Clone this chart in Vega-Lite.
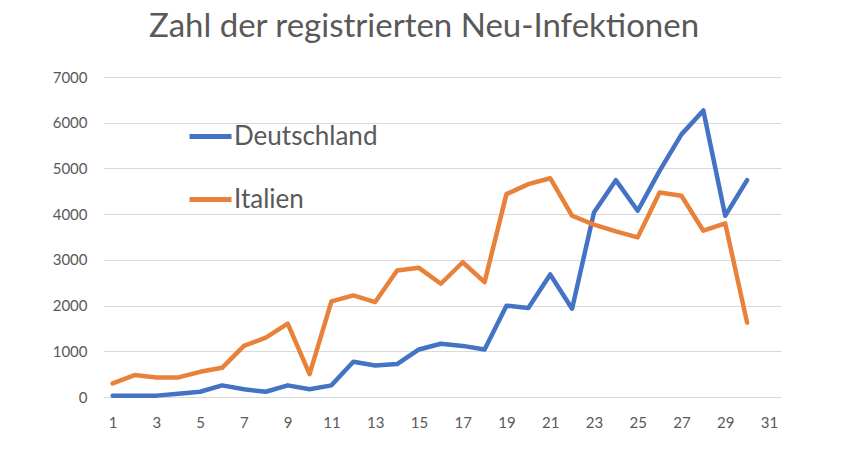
{
  "$schema": "https://vega.github.io/schema/vega-lite/v6.json",
  "width": 678,
  "height": 320,
  "autosize": "none",
  "padding": {"left": 103, "top": 77, "right": 73, "bottom": 59},
  "background": "white",
  "title": {
    "text": "Zahl der registrierten Neu-Infektionen",
    "font": "Lato",
    "fontSize": 33,
    "fontWeight": "normal",
    "color": "#595959",
    "anchor": "middle",
    "dx": -18,
    "offset": 26
  },
  "config": {
    "view": {"stroke": null},
    "axis": {"labelFont": "Lato", "labelColor": "#595959", "labelFontSize": 15}
  },
  "data": {
    "values": [
      {"tag": 1, "land": "Deutschland", "n": 28},
      {"tag": 2, "land": "Deutschland", "n": 28},
      {"tag": 3, "land": "Deutschland", "n": 30},
      {"tag": 4, "land": "Deutschland", "n": 72},
      {"tag": 5, "land": "Deutschland", "n": 115},
      {"tag": 6, "land": "Deutschland", "n": 255},
      {"tag": 7, "land": "Deutschland", "n": 168},
      {"tag": 8, "land": "Deutschland", "n": 115},
      {"tag": 9, "land": "Deutschland", "n": 255},
      {"tag": 10, "land": "Deutschland", "n": 168},
      {"tag": 11, "land": "Deutschland", "n": 255},
      {"tag": 12, "land": "Deutschland", "n": 770},
      {"tag": 13, "land": "Deutschland", "n": 690},
      {"tag": 14, "land": "Deutschland", "n": 720},
      {"tag": 15, "land": "Deutschland", "n": 1040},
      {"tag": 16, "land": "Deutschland", "n": 1165},
      {"tag": 17, "land": "Deutschland", "n": 1118},
      {"tag": 18, "land": "Deutschland", "n": 1040},
      {"tag": 19, "land": "Deutschland", "n": 1998},
      {"tag": 20, "land": "Deutschland", "n": 1946},
      {"tag": 21, "land": "Deutschland", "n": 2680},
      {"tag": 22, "land": "Deutschland", "n": 1932},
      {"tag": 23, "land": "Deutschland", "n": 4037},
      {"tag": 24, "land": "Deutschland", "n": 4743},
      {"tag": 25, "land": "Deutschland", "n": 4074},
      {"tag": 26, "land": "Deutschland", "n": 4946},
      {"tag": 27, "land": "Deutschland", "n": 5745},
      {"tag": 28, "land": "Deutschland", "n": 6268},
      {"tag": 29, "land": "Deutschland", "n": 3965},
      {"tag": 30, "land": "Deutschland", "n": 4743},
      {"tag": 1, "land": "Italien", "n": 298},
      {"tag": 2, "land": "Italien", "n": 479},
      {"tag": 3, "land": "Italien", "n": 429},
      {"tag": 4, "land": "Italien", "n": 429},
      {"tag": 5, "land": "Italien", "n": 551},
      {"tag": 6, "land": "Italien", "n": 638},
      {"tag": 7, "land": "Italien", "n": 1118},
      {"tag": 8, "land": "Italien", "n": 1300},
      {"tag": 9, "land": "Italien", "n": 1605},
      {"tag": 10, "land": "Italien", "n": 501},
      {"tag": 11, "land": "Italien", "n": 2091},
      {"tag": 12, "land": "Italien", "n": 2222},
      {"tag": 13, "land": "Italien", "n": 2077},
      {"tag": 14, "land": "Italien", "n": 2767},
      {"tag": 15, "land": "Italien", "n": 2826},
      {"tag": 16, "land": "Italien", "n": 2477},
      {"tag": 17, "land": "Italien", "n": 2948},
      {"tag": 18, "land": "Italien", "n": 2512},
      {"tag": 19, "land": "Italien", "n": 4438},
      {"tag": 20, "land": "Italien", "n": 4656},
      {"tag": 21, "land": "Italien", "n": 4786},
      {"tag": 22, "land": "Italien", "n": 3965},
      {"tag": 23, "land": "Italien", "n": 3769},
      {"tag": 24, "land": "Italien", "n": 3623},
      {"tag": 25, "land": "Italien", "n": 3492},
      {"tag": 26, "land": "Italien", "n": 4473},
      {"tag": 27, "land": "Italien", "n": 4401},
      {"tag": 28, "land": "Italien", "n": 3638},
      {"tag": 29, "land": "Italien", "n": 3797},
      {"tag": 30, "land": "Italien", "n": 1627}
    ]
  },
  "mark": {"type": "line", "strokeWidth": 4.5, "strokeJoin": "round", "strokeCap": "round"},
  "encoding": {
    "x": {
      "field": "tag",
      "type": "quantitative",
      "scale": {"domain": [0.557, 31.55], "nice": false, "zero": false},
      "axis": {
        "title": null,
        "values": [1, 3, 5, 7, 9, 11, 13, 15, 17, 19, 21, 23, 25, 27, 29, 31],
        "grid": false,
        "ticks": false,
        "domain": false,
        "labelOverlap": false,
        "labelPadding": 18
      }
    },
    "y": {
      "field": "n",
      "type": "quantitative",
      "scale": {"domain": [0, 7000], "nice": false},
      "axis": {
        "title": null,
        "values": [0, 1000, 2000, 3000, 4000, 5000, 6000, 7000],
        "format": "d",
        "grid": true,
        "gridColor": "#d9d9d9",
        "gridWidth": 1.2,
        "ticks": false,
        "domain": false,
        "labelOverlap": false,
        "labelPadding": 16
      }
    },
    "color": {
      "field": "land",
      "type": "nominal",
      "scale": {"domain": ["Deutschland", "Italien"], "range": ["#4472C4", "#E8823A"]},
      "legend": {
        "title": null,
        "orient": "none",
        "legendX": 84,
        "legendY": 36,
        "symbolType": "stroke",
        "symbolSize": 1764,
        "symbolStrokeWidth": 5,
        "labelFont": "Lato",
        "labelFontSize": 26,
        "labelColor": "#595959",
        "labelOffset": 0,
        "rowPadding": 26
      }
    }
  }
}
